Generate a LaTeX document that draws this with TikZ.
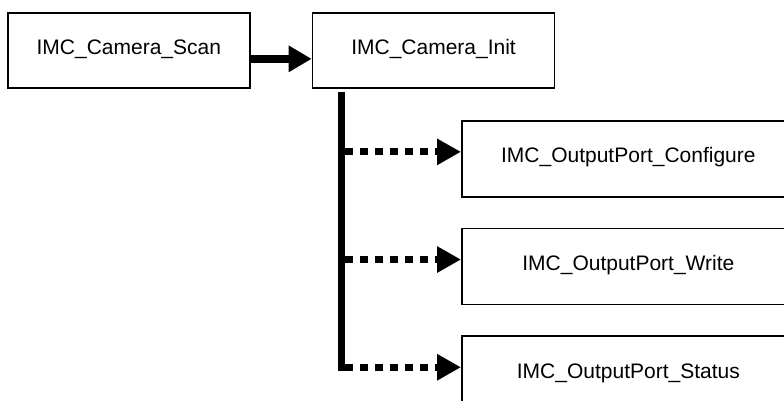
\documentclass[tikz,border=0pt]{standalone}
\usepackage{fontspec}
\setmainfont{Liberation Sans}
\usepackage{tikz}
\usetikzlibrary{arrows.meta,positioning}
\tikzset{
    funcbox/.style={draw, line width=0.85pt, align=center, inner sep=0pt, minimum width=121pt, minimum height=37.5pt, text height=8pt, text depth=4pt, font=\fontsize{10.5}{12.6}\selectfont},
    portbox/.style={funcbox, minimum width=166.5pt, minimum height=38pt},
    callarrow/.style={-{Triangle[length=11.5pt, width=12.5pt]}, line width=4pt},
    trunkline/.style={line width=3.6pt},
    optarrow/.style={-{Triangle[length=12pt, width=12.5pt]}, line width=3.6pt, dash pattern=on 3.6pt off 3.9pt}
}

\begin{document}
\begin{tikzpicture}[node distance=30.5pt]
    \useasboundingbox (0,0) rectangle (392pt,-200.5pt);
    \clip (0,0) rectangle (392pt,-200.5pt);

    \node[funcbox, anchor=north west] (scan) at (3.5pt,-6pt) {IMC\_Camera\_Scan};
    \node[funcbox, right=of scan] (init) {IMC\_Camera\_Init};

    \node[portbox, anchor=north west] (cfg) at (230.5pt,-60pt) {IMC\_OutputPort\_Configure};
    \node[portbox, below=15pt of cfg] (wr) {IMC\_OutputPort\_Write};
    \node[portbox, below=15pt of wr] (st) {IMC\_OutputPort\_Status};

    \draw[callarrow] ([yshift=-4.25pt]scan.east) -- ([yshift=-4.25pt]init.west);

    % trunk under the init box
    \coordinate (trunktop) at ([xshift=15pt, yshift=-1.5pt]init.south west);
    \coordinate (cfgin) at ([yshift=3.5pt]cfg.west);
    \coordinate (wrin) at ([yshift=3.5pt]wr.west);
    \coordinate (stin) at ([yshift=3.5pt]st.west);
    \draw[trunkline] (trunktop) -- ([yshift=-1.8pt]trunktop |- stin);

    \draw[optarrow] ([xshift=1.8pt]trunktop |- cfgin) -- (cfgin);
    \draw[optarrow] ([xshift=1.8pt]trunktop |- wrin) -- (wrin);
    \draw[optarrow] ([xshift=1.8pt]trunktop |- stin) -- (stin);
\end{tikzpicture}
\end{document}
